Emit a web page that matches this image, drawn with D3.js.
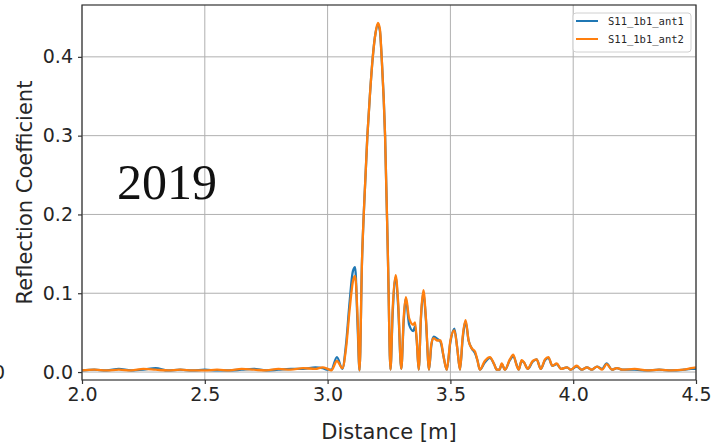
<!DOCTYPE html>
<html>
<head>
<meta charset="utf-8">
<title>Reflection Coefficient</title>
<script src="https://d3js.org/d3.v7.min.js"></script>
<style>
  body { margin: 0; background: #fff; }
  svg { display: block; }
  .tick text { font-family: "DejaVu Sans", sans-serif; font-size: 19px; fill: #262626; }
  .grid line { stroke: #b0b0b0; stroke-width: 1; }
  .label { font-family: "DejaVu Sans", sans-serif; font-size: 21px; fill: #262626; }
</style>
</head>
<body>
<div id="chart"></div>
<script>
// distance samples [m] (peaks, zeros, shoulders)
var distance = [
  2.00, 2.05, 2.10, 2.15, 2.20, 2.25, 2.30, 2.35, 2.40, 2.45,
  2.50, 2.55, 2.60, 2.65, 2.70, 2.75, 2.80, 2.85, 2.90, 2.95,
  2.98, 3.00, 3.015, 3.038, 3.060, 3.075, 3.090, 3.103, 3.112, 3.122,
  3.130, 3.140, 3.150, 3.162, 3.172, 3.184, 3.195, 3.205, 3.213, 3.220,
  3.234, 3.246, 3.256, 3.265, 3.277, 3.287, 3.300, 3.310, 3.319, 3.332,
  3.349, 3.356, 3.363, 3.371, 3.380, 3.390, 3.400, 3.413, 3.422, 3.432,
  3.447, 3.460, 3.472, 3.485, 3.500, 3.516, 3.528, 3.539, 3.550, 3.562,
  3.574, 3.587, 3.600, 3.610, 3.620, 3.640, 3.661, 3.678, 3.689, 3.700,
  3.709, 3.722, 3.742, 3.756, 3.770, 3.778, 3.790, 3.800, 3.815, 3.835,
  3.851, 3.868, 3.885, 3.899, 3.915, 3.933, 3.950, 3.975, 3.990, 4.014,
  4.035, 4.056, 4.075, 4.097, 4.118, 4.136, 4.158, 4.178, 4.200, 4.250,
  4.300, 4.350, 4.400, 4.450, 4.480, 4.500
];

var ant1 = [
  0.002, 0.003, 0.002, 0.004, 0.002, 0.003, 0.005, 0.002, 0.003, 0.002,
  0.003, 0.002, 0.002, 0.003, 0.004, 0.002, 0.003, 0.004, 0.004, 0.006,
  0.005, 0.003, 0.003, 0.019, 0.004, 0.035, 0.090, 0.128, 0.133, 0.060,
  0.002, 0.140, 0.220, 0.300, 0.350, 0.400, 0.430, 0.441, 0.433, 0.400,
  0.300, 0.140, 0.003, 0.075, 0.120, 0.085, 0.004, 0.065, 0.093, 0.060,
  0.052, 0.058, 0.040, 0.003, 0.068, 0.101, 0.068, 0.003, 0.033, 0.045,
  0.042, 0.038, 0.020, 0.003, 0.038, 0.055, 0.030, 0.003, 0.042, 0.064,
  0.040, 0.030, 0.024, 0.015, 0.003, 0.012, 0.018, 0.010, 0.003, 0.003,
  0.010, 0.003, 0.015, 0.020, 0.009, 0.003, 0.014, 0.012, 0.004, 0.013,
  0.016, 0.004, 0.015, 0.018, 0.008, 0.010, 0.004, 0.006, 0.003, 0.007,
  0.003, 0.006, 0.003, 0.007, 0.004, 0.011, 0.003, 0.005, 0.003, 0.003,
  0.002, 0.003, 0.002, 0.003, 0.004, 0.004
];

var ant2 = [
  0.002, 0.003, 0.002, 0.003, 0.002, 0.004, 0.003, 0.002, 0.003, 0.002,
  0.002, 0.003, 0.002, 0.004, 0.003, 0.002, 0.004, 0.003, 0.005, 0.004,
  0.006, 0.004, 0.002, 0.014, 0.005, 0.030, 0.080, 0.115, 0.122, 0.070,
  0.002, 0.140, 0.220, 0.300, 0.350, 0.400, 0.430, 0.443, 0.435, 0.400,
  0.300, 0.140, 0.003, 0.080, 0.123, 0.090, 0.004, 0.070, 0.095, 0.068,
  0.060, 0.063, 0.040, 0.003, 0.070, 0.104, 0.070, 0.003, 0.035, 0.043,
  0.040, 0.040, 0.020, 0.003, 0.040, 0.053, 0.030, 0.003, 0.045, 0.066,
  0.040, 0.030, 0.026, 0.015, 0.003, 0.014, 0.019, 0.010, 0.003, 0.003,
  0.011, 0.003, 0.016, 0.022, 0.008, 0.003, 0.015, 0.012, 0.004, 0.014,
  0.016, 0.004, 0.016, 0.019, 0.008, 0.011, 0.004, 0.006, 0.003, 0.008,
  0.003, 0.006, 0.003, 0.007, 0.003, 0.010, 0.003, 0.005, 0.003, 0.004,
  0.002, 0.003, 0.002, 0.003, 0.005, 0.006
];

var seriesNames = ["S11_1b1_ant1", "S11_1b1_ant2"];
var seriesColors = ["#1f77b4", "#ff7f0e"];
var xTicks = [2.0, 2.5, 3.0, 3.5, 4.0, 4.5];
var yTicks = [0.0, 0.1, 0.2, 0.3, 0.4];

var width = 712, height = 444;
var margin = {left: 82, right: 16, top: 5, bottom: 64};

var svg = d3.select("#chart").append("svg")
    .attr("width", width)
    .attr("height", height);

var x = d3.scaleLinear()
    .domain([2.0, 4.5])
    .range([margin.left, width - margin.right]);

var y = d3.scaleLinear()
    .domain([-0.0101, 0.4658])
    .range([height - margin.bottom, margin.top]);

// grid
svg.append("g")
    .attr("class", "grid")
    .selectAll("line.v")
    .data(xTicks)
  .enter().append("line")
    .attr("x1", function(d) { return x(d); })
    .attr("x2", function(d) { return x(d); })
    .attr("y1", y.range()[0])
    .attr("y2", y.range()[1]);

svg.select(".grid")
    .selectAll("line.h")
    .data(yTicks)
  .enter().append("line")
    .attr("class", "h")
    .attr("x1", x.range()[0])
    .attr("x2", x.range()[1])
    .attr("y1", function(d) { return y(d); })
    .attr("y2", function(d) { return y(d); });

// lines
var line = d3.line()
    .x(function(d) { return x(d[0]); })
    .y(function(d) { return y(d[1]); })
    .curve(d3.curveMonotoneX);

[ant1, ant2].forEach(function(vals, i) {
  svg.append("path")
      .datum(distance.map(function(d, j) { return [d, vals[j]]; }))
      .attr("fill", "none")
      .attr("stroke", seriesColors[i])
      .attr("stroke-width", 2.3)
      .attr("stroke-linejoin", "round")
      .attr("d", line);
});

// frame
svg.append("rect")
    .attr("x", x.range()[0])
    .attr("y", y.range()[1])
    .attr("width", x.range()[1] - x.range()[0])
    .attr("height", y.range()[0] - y.range()[1])
    .attr("fill", "none")
    .attr("stroke", "#333")
    .attr("stroke-width", 1.2);

// axes
var xAxis = svg.append("g")
    .attr("transform", "translate(0," + y.range()[0] + ")")
    .call(d3.axisBottom(x).tickValues(xTicks).tickFormat(d3.format(".1f")).tickSize(4).tickPadding(4));
var yAxis = svg.append("g")
    .attr("transform", "translate(" + x.range()[0] + ",0)")
    .call(d3.axisLeft(y).tickValues(yTicks).tickFormat(d3.format(".1f")).tickSize(4).tickPadding(5));
[xAxis, yAxis].forEach(function(a) {
  a.select(".domain").remove();
  a.selectAll(".tick line").attr("stroke", "#333").attr("stroke-width", 1.2);
});

svg.append("text")
    .attr("class", "label")
    .attr("x", (x.range()[0] + x.range()[1]) / 2)
    .attr("y", 439)
    .attr("text-anchor", "middle")
    .text("Distance [m]");

svg.append("text")
    .attr("class", "label")
    .attr("transform", "translate(32," + (y.range()[0] + y.range()[1]) / 2 + ") rotate(-90)")
    .attr("text-anchor", "middle")
    .text("Reflection Coefficient");

// legend
var lg = svg.append("g").attr("transform", "translate(573,13)");
lg.append("rect")
    .attr("width", 118).attr("height", 39)
    .attr("rx", 3)
    .attr("fill", "#fff").attr("fill-opacity", 0.8)
    .attr("stroke", "#d0d0d0");
seriesNames.forEach(function(name, i) {
  lg.append("line")
      .attr("x1", 3).attr("x2", 25)
      .attr("y1", 8 + i * 18).attr("y2", 8 + i * 18)
      .attr("stroke", seriesColors[i]).attr("stroke-width", 2);
  lg.append("text")
      .attr("x", 35).attr("y", 8 + i * 18)
      .attr("dy", "0.35em")
      .style("font-family", "'DejaVu Sans Mono', monospace")
      .style("font-size", "10.5px")
      .attr("fill", "#262626")
      .text(name);
});

// stray label from neighbouring panel (cut at the edge, as in the source) and year stamp
svg.append("text")
    .attr("x", -7).attr("y", 372).attr("dy", "0.35em")
    .style("font-family", "'DejaVu Sans', sans-serif").style("font-size", "19px")
    .attr("fill", "#262626")
    .text("0");

svg.append("text")
    .attr("x", 117).attr("y", 199)
    .style("font-family", "'Liberation Serif', serif").style("font-size", "50px")
    .attr("fill", "#111")
    .text("2019");
</script>
</body>
</html>
